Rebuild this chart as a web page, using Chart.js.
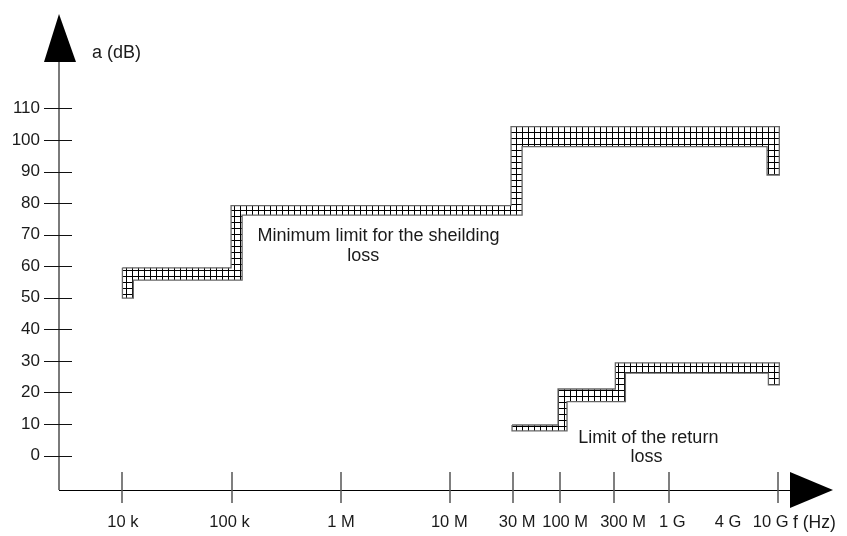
<!DOCTYPE html>
<html><head><meta charset="utf-8">
<script src="https://cdn.jsdelivr.net/npm/chart.js@4"></script>
<style>html,body{margin:0;padding:0;background:#fff}#wrap{width:847px;height:536px;position:relative}</style>
</head><body><div id="wrap"><canvas id="c"></canvas></div>
<script>
// x axis is schematic: unit = one "step" (decade up to 10 MHz, half-decade-ish after)
const xTickPos = [0, 1, 2, 3, 3.57, 4, 4.5, 5, 5.54, 6];
const xTickMarked = [true, true, true, true, true, true, true, true, false, true];
const xLabelPos = [0.005, 0.98, 2.0, 2.99, 3.61, 4.05, 4.58, 5.03, 5.54, 5.93];
const xTickLabels = ['10 k', '100 k', '1 M', '10 M', '30 M', '100 M', '300 M', '1 G', '4 G', '10 G'];
const yTicks = [0, 10, 20, 30, 40, 50, 60, 70, 80, 90, 100, 110];

// shielding loss band (outline, x in axis units, y in dB)
const shieldX = [0, 0.994, 0.994, 3.555, 3.555, 6.009, 6.009, 5.897, 5.897, 3.656, 3.656, 1.095, 1.095, 0.1, 0.1, 0, 0];
const shieldY = [59.5, 59.5, 79.2, 79.2, 104.2, 104.2, 88.9, 88.9, 97.9, 97.9, 76.2, 76.2, 55.6, 55.6, 49.9, 49.9, 59.5];
// return loss band
const returnX = [3.564, 3.985, 3.985, 4.509, 4.509, 6.009, 6.009, 5.909, 5.909, 4.601, 4.601, 4.067, 4.067, 3.564, 3.564];
const returnY = [9.7, 9.7, 21.1, 21.1, 29.4, 29.4, 22.4, 22.4, 26.1, 26.1, 17.1, 17.1, 7.8, 7.8, 9.7];

const noteTexts = ['Minimum limit for the sheilding', 'loss', 'Limit of the return', 'loss'];
const noteX = [2.342, 2.204, 4.811, 4.793];
const noteY = [69.6, 63.2, 5.7, -0.3];

const FONT = '"Liberation Sans", Arial, sans-serif';

function makePattern() {
  const t = document.createElement('canvas');
  t.width = 6; t.height = 6;
  const g = t.getContext('2d');
  g.fillStyle = '#fff'; g.fillRect(0, 0, 6, 6);
  g.fillStyle = '#000';
  g.fillRect(0, 0, 1, 6);
  g.fillRect(0, 0, 6, 1);
  return g.createPattern(t, 'repeat');
}
const pattern = makePattern();

const pts = (xs, ys) => xs.map((v, i) => ({x: v, y: ys[i]}));
const noPad = s => { s.paddingTop = 0; s.paddingBottom = 0; s.paddingLeft = 0; s.paddingRight = 0; };

const axesPlugin = {
  id: 'axes',
  beforeDatasetsDraw(chart) {
    const {ctx, chartArea: a, scales: {x, y}} = chart;
    ctx.save();
    const x0 = a.left, yb = a.bottom;
    // y axis
    ctx.strokeStyle = '#7a7a7a'; ctx.lineWidth = 2;
    ctx.beginPath(); ctx.moveTo(x0, yb); ctx.lineTo(x0, a.top + 45); ctx.stroke();
    // x axis
    ctx.strokeStyle = '#000'; ctx.lineWidth = 1;
    ctx.beginPath(); ctx.moveTo(x0, yb + 0.5); ctx.lineTo(a.right - 40, yb + 0.5); ctx.stroke();
    // arrows
    ctx.fillStyle = '#000';
    ctx.beginPath(); ctx.moveTo(x0, a.top); ctx.lineTo(x0 - 15, a.top + 48); ctx.lineTo(x0 + 17, a.top + 48); ctx.closePath(); ctx.fill();
    ctx.beginPath(); ctx.moveTo(a.right, yb); ctx.lineTo(a.right - 43, yb - 18); ctx.lineTo(a.right - 43, yb + 18); ctx.closePath(); ctx.fill();
    // y tick marks
    ctx.strokeStyle = '#111'; ctx.lineWidth = 1;
    yTicks.forEach(v => {
      const py = Math.round(y.getPixelForValue(v)) + 0.5;
      ctx.beginPath(); ctx.moveTo(x0 - 15, py); ctx.lineTo(x0 + 13, py); ctx.stroke();
    });
    // x tick marks
    ctx.strokeStyle = '#555'; ctx.lineWidth = 1.5;
    xTickPos.forEach((v, i) => {
      if (!xTickMarked[i]) return;
      const px = Math.round(x.getPixelForValue(v));
      ctx.beginPath(); ctx.moveTo(px, yb - 18); ctx.lineTo(px, yb + 13); ctx.stroke();
    });
    ctx.restore();
  },
  afterDraw(chart) {
    const {ctx, chartArea: a, scales: {x, y}} = chart;
    ctx.save();
    ctx.fillStyle = '#1a1a1a';
    ctx.font = '18px ' + FONT;
    ctx.textBaseline = 'middle';
    ctx.textAlign = 'left';
    ctx.fillText('a (dB)', a.left + 33, a.top + 39);
    ctx.font = '17.5px ' + FONT;
    ctx.fillText('f (Hz)', a.right - 40, a.bottom + 33);
    ctx.font = '18px ' + FONT;
    ctx.textAlign = 'center';
    noteTexts.forEach((t, i) => {
      ctx.fillText(t, x.getPixelForValue(noteX[i]), y.getPixelForValue(noteY[i]));
    });
    ctx.restore();
  }
};

new Chart(document.getElementById('c'), {
  type: 'line',
  data: {
    datasets: [
      {label: 'Shielding loss', data: pts(shieldX, shieldY), fill: 'shape', backgroundColor: pattern,
       borderColor: '#666', borderWidth: 1.3, pointRadius: 0, tension: 0},
      {label: 'Return loss', data: pts(returnX, returnY), fill: 'shape', backgroundColor: pattern,
       borderColor: '#666', borderWidth: 1.3, pointRadius: 0, tension: 0}
    ]
  },
  options: {
    responsive: true,
    maintainAspectRatio: false,
    animation: false,
    layout: {padding: {top: 14, right: 14, left: 0, bottom: 0}},
    plugins: {legend: {display: false}, tooltip: {enabled: false}},
    scales: {
      x: {
        type: 'linear', min: -0.58, max: 6.5,
        grid: {display: false, drawTicks: false}, border: {display: false},
        afterBuildTicks: s => { s.ticks = xLabelPos.map(v => ({value: v})); },
        afterFit: s => { s.height = 46; noPad(s); },
        ticks: {
          autoSkip: false, maxRotation: 0, padding: 23, color: '#1a1a1a',
          font: {size: 16.5, family: FONT},
          callback: (v, i) => xTickLabels[i]
        }
      },
      y: {
        type: 'linear', min: -10.9, max: 139.9,
        grid: {display: false, drawTicks: false}, border: {display: false},
        afterBuildTicks: s => { s.ticks = yTicks.map(v => ({value: v})); },
        afterFit: s => { s.width = 59; noPad(s); },
        ticks: {padding: 19, color: '#1a1a1a', font: {size: 17, family: FONT}}
      }
    }
  },
  plugins: [axesPlugin]
});
</script>
</body></html>
